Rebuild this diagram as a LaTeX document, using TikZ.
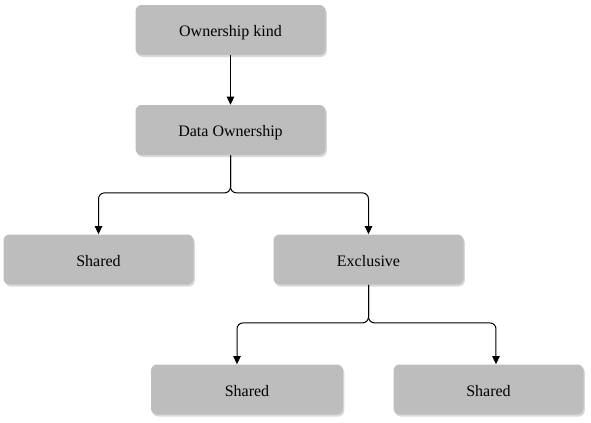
\documentclass[tikz,border=0pt]{standalone}
\usepackage{fontspec}
\setmainfont{Liberation Serif}
\usetikzlibrary{arrows.meta, shadows}

\definecolor{boxgray}{RGB}{189,189,189}

\tikzset{
    box/.style = {
        fill = boxgray, rounded corners = 4.5pt,
        minimum width = 142.5pt, minimum height = 37.5pt,
        text height = 10pt, text depth = 0pt,
        font = \fontsize{12}{14}\selectfont,
        drop shadow = {shadow xshift = 1pt, shadow yshift = -1.5pt, fill = black, opacity = 0.15}
    },
    link/.style = {-{Triangle[width = 5.5pt, length = 6pt]}, line width = 0.75pt, rounded corners = 4.5pt}
}

\begin{document}
\begin{tikzpicture}[x = 0.75pt, y = -0.75pt]
        \useasboundingbox (0, 0) rectangle (591, 422);

        \node [box] (kind) at (230.5, 30) {Ownership kind};
        \node [box] (own) at (230.5, 130) {Data Ownership};
        \node [box] (sha) at (98.5, 259.5) {Shared};
        \node [box] (exc) at (368.5, 259.5) {Exclusive};
        \node [box, minimum width = 144pt] (shb) at (247, 389.5) {Shared};
        \node [box] (shc) at (488.5, 389.5) {Shared};

        \draw [link] (kind) -- (own);
        \draw [link] (own.south) |- ([yshift = 31pt] sha.north) -- (sha.north);
        \draw [link] (own.south) |- ([yshift = 31pt] exc.north) -- (exc.north);
        \draw [link] (exc.south) |- ([xshift = -7.5pt, yshift = 31pt] shb.north) -- ([xshift = -7.5pt] shb.north);
        \draw [link] (exc.south) |- ([xshift = 5.6pt, yshift = 31pt] shc.north) -- ([xshift = 5.6pt] shc.north);
    \end{tikzpicture}
\end{document}
